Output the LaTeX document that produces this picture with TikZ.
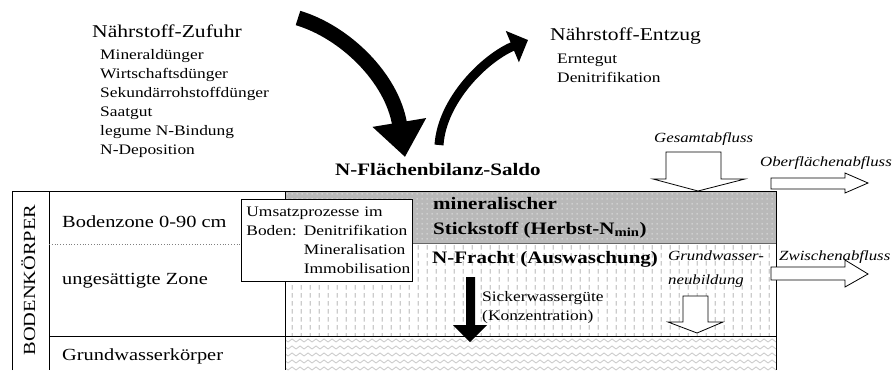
\documentclass[tikz,border=0pt]{standalone}
\usepackage{fontspec}
\setmainfont{Liberation Serif}[FakeStretch=1.2]
\usetikzlibrary{arrows.meta,patterns}

\pgfdeclarepatternformonly{kies}{\pgfqpoint{0pt}{0pt}}{\pgfqpoint{5pt}{5pt}}{\pgfqpoint{5pt}{5pt}}{%
  \pgfpathcircle{\pgfqpoint{2.5pt}{2.5pt}}{1pt}\pgfusepath{fill}}
\pgfdeclarepatternformonly{sicker}{\pgfqpoint{0pt}{0pt}}{\pgfqpoint{9pt}{8pt}}{\pgfqpoint{9pt}{8pt}}{%
  \pgfpathrectangle{\pgfqpoint{4pt}{1.5pt}}{\pgfqpoint{1.4pt}{5pt}}\pgfusepath{fill}}
\pgfdeclarepatternformonly{welle}{\pgfqpoint{0pt}{-1pt}}{\pgfqpoint{8pt}{7pt}}{\pgfqpoint{8pt}{7pt}}{%
  \pgfsetlinewidth{0.9pt}%
  \pgfpathmoveto{\pgfqpoint{0pt}{0pt}}\pgfpathlineto{\pgfqpoint{4pt}{3pt}}\pgfpathlineto{\pgfqpoint{8pt}{0pt}}%
  \pgfusepath{stroke}}

\begin{document}
\begin{tikzpicture}[x=1pt,y=-1pt,
    txt/.style={anchor=base west,inner sep=0pt,font=\fontsize{14.5}{19}\selectfont},
    titel/.style={anchor=base west,inner sep=0pt,font=\fontsize{18}{22}\selectfont},
    fett/.style={anchor=base west,inner sep=0pt,font=\fontsize{17.5}{21}\selectfont\bfseries},
    zone/.style={anchor=base west,inner sep=0pt,font=\fontsize{17}{20}\selectfont},
    abfl/.style={anchor=base west,inner sep=0pt,font=\fontsize{14}{18}\selectfont\itshape},
    blockpfeil/.style={draw,fill=white,line width=0.8pt}]
    \useasboundingbox (0,0) rectangle (894,370);

    % Flaechen rechts
    \fill[gray!55] (285,191) rectangle (776,243);
    \fill[pattern=kies,pattern color=gray!30] (285,191) rectangle (776,243);
    \fill[pattern=sicker,pattern color=gray!40] (285,243) rectangle (776,336);
    \fill[pattern=welle,pattern color=gray!40] (285,336) rectangle (776,370);

    % Rahmen
    \draw[line width=1pt] (12,370) -- (12,191) -- (776,191) -- (776,370);
    \draw[line width=1pt] (49,191) -- (49,370);
    \draw[line width=1pt] (285,191) -- (285,370);
    \draw[line width=1pt] (49,336) -- (776,336);
    \draw[gray!80!black,line width=0.8pt] (285,243) -- (776,243);
    \draw[gray,dotted,line width=0.8pt] (49,244) -- (285,244);

    % Texte
    \node[titel] (zufuhr) at (92,37) {Nährstoff-Zufuhr};
    \node[txt] (z1) at (100,59) {Mineraldünger};
    \node[txt] (z2) at (100,78) {Wirtschaftsdünger};
    \node[txt] (z3) at (100,97) {Sekundärrohstoffdünger};
    \node[txt] (z4) at (100,116) {Saatgut};
    \node[txt] (z5) at (100,135) {legume N-Bindung};
    \node[txt] (z6) at (100,154) {N-Deposition};

    \node[titel] (entzug) at (550,40) {Nährstoff-Entzug};
    \node[txt] (e1) at (557,63) {Erntegut};
    \node[txt] (e2) at (557,82) {Denitrifikation};

    \node[fett] (saldo) at (335,175) {N-Flächenbilanz-Saldo};

    \node[rotate=90,anchor=base,inner sep=0pt,font=\fontsize{17}{20}\selectfont] (koerper) at (35,280) {BODENKÖRPER};
    \node[zone] (boden) at (62,227) {Bodenzone 0-90 cm};
    \node[zone] (unges) at (62,284) {ungesättigte Zone};
    \node[zone] (gwk) at (62,360) {Grundwasserkörper};

    \node[draw,fill=white,line width=0.8pt,anchor=north west,text width=161pt,inner xsep=5pt,inner ysep=0pt,
          minimum height=82pt,align=left,font=\fontsize{14.5}{19}\selectfont] (umsatz) at (241,199)
          {Umsatzprozesse im\\Boden: Denitrifikation\\\phantom{Boden: }Mineralisation\\\phantom{Boden: }Immobilisation};

    \node[fett] (nmin1) at (433,209) {mineralischer};
    \node[fett] (nmin2) at (433,234) {Stickstoff (Herbst-N\textsubscript{min})};
    \node[fett] (fracht) at (432,263) {N-Fracht (Auswaschung)};
    \node[txt] (sick1) at (482,301) {Sickerwassergüte};
    \node[txt] (sick2) at (482,320) {(Konzentration)};

    \node[abfl] (gesamt) at (654,142) {Gesamtabfluss};
    \node[abfl] (oberfl) at (760,166) {Oberflächenabfluss};
    \node[abfl] (zwisch) at (779,260) {Zwischenabfluss};
    \node[abfl] (gwn1) at (668,260) {Grundwasser-};
    \node[abfl] (gwn2) at (668,284) {neubildung};

    % Pfeile
    \coordinate (zuStart) at (298,18);
    \coordinate (zuEnde) at (405,157);
    \coordinate (entStart) at (439,145);
    \coordinate (entEnde) at (528,40);
    \draw[line width=15pt,-{Triangle[length=35pt,width=52pt]}] (zuStart) .. controls (345,32) and (392,78) .. (zuEnde);
    \draw[line width=9pt,-{Triangle[length=17pt,width=33pt]}] (entStart) .. controls (442,100) and (485,58) .. (entEnde);

    \fill (466,277) -- (475,277) -- (475,325) -- (487,325) -- (470,342) -- (453,325) -- (466,325) -- cycle;

    \draw[blockpfeil] (666,152) -- (721,152) -- (721,179) -- (745,179) -- (698,191) -- (653,179) -- (666,179) -- cycle;
    \draw[blockpfeil] (683,296) -- (708,296) -- (708,322) -- (723,322) -- (697,333) -- (668,322) -- (683,322) -- cycle;
    \draw[blockpfeil] (771,178) -- (845,178) -- (845,173) -- (868,183) -- (845,193) -- (845,189) -- (771,189) -- cycle;
    \draw[blockpfeil] (771,267) -- (845,267) -- (845,260) -- (868,274) -- (845,287) -- (845,280) -- (771,280) -- cycle;
\end{tikzpicture}
\end{document}
